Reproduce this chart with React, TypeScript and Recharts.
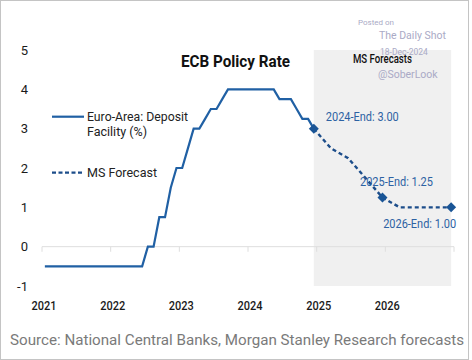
import React from 'react'
import { ComposedChart, Line, XAxis, YAxis, ReferenceArea, ReferenceLine } from 'recharts'

const FONT = "Roboto, sans-serif"

const yearTicks = [2021, 2022, 2023, 2024, 2025, 2026]
const yTicks = [-1, 0, 1, 2, 3, 4, 5]

// deposit facility rate, month by month (Jan..Dec)
const histYears = [2021, 2022, 2023, 2024]
const rates2021 = [-0.5, -0.5, -0.5, -0.5, -0.5, -0.5, -0.5, -0.5, -0.5, -0.5, -0.5, -0.5]
const rates2022 = [-0.5, -0.5, -0.5, -0.5, -0.5, -0.5, 0, 0, 0.75, 0.75, 1.5, 2]
const rates2023 = [2, 2.5, 3, 3, 3.25, 3.5, 3.5, 3.75, 4, 4, 4, 4]
const rates2024 = [4, 4, 4, 4, 4, 3.75, 3.75, 3.75, 3.5, 3.25, 3.25, 3]

// MS forecast path
const forecastMonths = ['2024-12', '2025-03', '2025-06', '2025-09', '2025-12', '2026-03', '2026-06', '2026-09', '2026-12']
const forecastRates = [3, 2.5, 2.25, 1.75, 1.25, 1, 1, 1, 1]
const forecastLabels = ['2024-End: 3.00', '', '', '', '2025-End: 1.25', '', '', '', '2026-End: 1.00']

const labelPlacement: Record<string, { dx: number; dy: number; anchor: 'start' | 'middle' | 'end' }> = {
  '2024-End: 3.00': { dx: 12, dy: -8, anchor: 'start' },
  '2025-End: 1.25': { dx: 14, dy: -12, anchor: 'middle' },
  '2026-End: 1.00': { dx: 5, dy: 21, anchor: 'end' },
}

const toT = (ym: string) => {
  const [y, m] = ym.split('-').map(Number)
  return y + (m - 0.5) / 12
}

const historyData = [rates2021, rates2022, rates2023, rates2024].flatMap((arr, i) =>
  arr.map((v, m) => ({ t: histYears[i] + (m + 0.5) / 12, rate: v }))
)
const forecastData = forecastMonths.map((ym, i) => ({ t: toT(ym), rate: forecastRates[i], label: forecastLabels[i] }))

const HIST_COLOR = '#2060a4'
const FC_COLOR = '#1c4d8a'

// condensed look: squeeze Roboto glyphs a little
const renderMarker = (props: any) => {
  const { cx, cy, index, payload } = props
  const label = payload?.label
  if (!label) return <g key={`m-${index}`} />
  const p = labelPlacement[label]
  return (
    <g key={`m-${index}`}>
      <path d={`M${cx},${cy - 5} L${cx + 5},${cy} L${cx},${cy + 5} L${cx - 5},${cy} Z`} fill="#1a5596" />
      <text
        x={cx + p.dx}
        y={cy + p.dy}
        textAnchor={p.anchor}
        fontSize={12}
        fontFamily={FONT}
        fill="#2d62a3"
        textLength={73}
        lengthAdjust="spacingAndGlyphs"
      >
        {label}
      </text>
    </g>
  )
}

const YearTick = (props: any) => {
  const { x, y, payload } = props
  return (
    <text x={x + 2} y={y + 16} textAnchor="middle" fontSize={13.5} fontWeight={500} fontFamily={FONT} fill="#1a1a1a"
      textLength={25} lengthAdjust="spacingAndGlyphs">
      {payload.value}
    </text>
  )
}

export default function App() {
  return (
    <div style={{ position: 'absolute', left: 0, top: 0, width: 472, height: 360, background: '#fff' }}>
      <ComposedChart width={472} height={360} margin={{ top: 50, right: 18, bottom: 44, left: 0 }}>
        <XAxis
          type="number"
          dataKey="t"
          domain={[2021, 2027]}
          ticks={yearTicks}
          axisLine={false}
          tickLine={false}
          height={30}
          tick={<YearTick />}
        />
        <YAxis
          type="number"
          domain={[-1, 5]}
          ticks={yTicks}
          width={42}
          axisLine={false}
          tickLine={false}
          tickMargin={8}
          tick={{ fontSize: 13, fill: '#1a1a1a', fontFamily: FONT }}
        />
        <ReferenceArea
          x1={toT(forecastMonths[0])}
          x2={toT(forecastMonths[forecastMonths.length - 1])}
          y1={-1}
          y2={5}
          fill="#f0f0f0"
          fillOpacity={1}
          stroke="none"
          label={{
            value: 'MS Forecasts',
            position: 'insideTop',
            offset: 4,
            fill: '#111',
            fontSize: 12,
            fontWeight: 500,
            fontFamily: FONT,
            textLength: 59,
            lengthAdjust: 'spacingAndGlyphs',
          }}
        />
        <ReferenceLine y={0} stroke="#dedede" />
        {[...yearTicks, 2027].map((yr) => (
          <ReferenceLine
            key={`tk-${yr}`}
            segment={[{ x: yr, y: 0 }, { x: yr, y: -0.13 }]}
            stroke="#dedede"
          />
        ))}
        <Line
          data={historyData}
          dataKey="rate"
          type="linear"
          stroke={HIST_COLOR}
          strokeWidth={2.2}
          dot={false}
          isAnimationActive={false}
        />
        <Line
          data={forecastData}
          dataKey="rate"
          type="linear"
          stroke={FC_COLOR}
          strokeWidth={2.4}
          strokeDasharray="4 3"
          dot={renderMarker}
          activeDot={false}
          isAnimationActive={false}
        />
      </ComposedChart>

      <svg width={472} height={360} style={{ position: 'absolute', left: 0, top: 0, pointerEvents: 'none' }}>
        <text x={235.5} y={67} textAnchor="middle" fontSize={16.5} fontWeight="bold" fontFamily={FONT} fill="#111"
          textLength={109} lengthAdjust="spacingAndGlyphs">
          ECB Policy Rate
        </text>

        <g fontFamily={FONT} fill="#aaaac6">
          <text x={358} y={25} fontSize={8}>Posted on</text>
          <text x={379} y={39} fontSize={10.5}>The Daily Shot</text>
          <text x={380} y={55} fontSize={8.5}>18-Dec-2024</text>
          <text x={378} y={78} fontSize={10.5}>@SoberLook</text>
        </g>

        <line x1={52} x2={84} y1={116.7} y2={116.7} stroke={HIST_COLOR} strokeWidth={2.2} />
        <text x={87} y={120.5} fontSize={12.5} fontFamily={FONT} fill="#222" textLength={101} lengthAdjust="spacingAndGlyphs">
          Euro-Area: Deposit
        </text>
        <text x={87} y={136.3} fontSize={12.5} fontFamily={FONT} fill="#222">Facility (%)</text>
        <line x1={52} x2={84} y1={172.7} y2={172.7} stroke={FC_COLOR} strokeWidth={2.2} strokeDasharray="4 2.5" />
        <text x={87} y={176.7} fontSize={12.5} fontFamily={FONT} fill="#222">MS Forecast</text>

        <text x={10} y={345} fontSize={15.5} fontFamily={FONT} fill="#7a7a7a" textLength={454} lengthAdjust="spacingAndGlyphs">
          Source: National Central Banks, Morgan Stanley Research forecasts
        </text>
      </svg>

      <div
        style={{
          position: 'absolute',
          left: 0,
          top: 0,
          width: 469,
          height: 360,
          border: '1px solid #c4c4c4',
          boxSizing: 'border-box',
          pointerEvents: 'none',
        }}
      />
    </div>
  )
}
